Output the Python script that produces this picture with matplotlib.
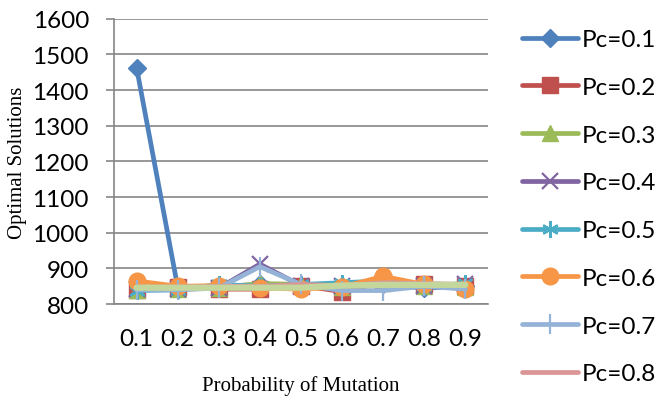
import matplotlib.pyplot as plt

# x categories
pm = ['0.1', '0.2', '0.3', '0.4', '0.5', '0.6', '0.7', '0.8', '0.9']

# optimal solutions for each crossover probability
pc01 = [1463, 848, 850, 855, 850, 852, 855, 845, 850]
pc02 = [840, 848, 842, 842, 852, 835, 862, 855, 850]
pc03 = [840, 842, 845, 858, 855, 848, 860, 852, 848]
pc04 = [842, 842, 845, 912, 852, 850, 858, 852, 855]
pc05 = [838, 840, 855, 850, 855, 860, 865, 850, 858]
pc06 = [865, 850, 852, 845, 842, 848, 878, 855, 842]
pc07 = [840, 840, 845, 905, 855, 838, 838, 850, 842]
pc08 = [848, 848, 850, 850, 855, 852, 860, 858, 855]
pc09 = [846, 846, 846, 846, 846, 852, 854, 854, 854]

labels = ['Pc=0.1', 'Pc=0.2', 'Pc=0.3', 'Pc=0.4', 'Pc=0.5', 'Pc=0.6', 'Pc=0.7', 'Pc=0.8', 'Pc=0.9']
series = [pc01, pc02, pc03, pc04, pc05, pc06, pc07, pc08, pc09]
colors = ['#4F81BD', '#C0504D', '#9BBB59', '#8064A2', '#4BACC6', '#F79646', '#95B3D7', '#D99694', '#C3D69B']
markers = ['D', 's', '^', 'x', (6, 2, 0), 'o', '|', None, None]
msizes = [9, 11, 11, 12, 12, 12, 14, 0, 0]
widths = [3.4, 3.4, 3.4, 3.4, 3.4, 3.4, 3.4, 3.4, 4.5]

fig = plt.figure(figsize=(6.55, 4.02), dpi=100)
ax = fig.add_axes([0.174, 0.241, 0.571, 0.71])

x = list(range(len(pm)))
handles = []
for s, lab, c, m, ms, lw in zip(series, labels, colors, markers, msizes, widths):
    h, = ax.plot(x, s, color=c, lw=lw, marker=m, markersize=ms,
                 markeredgewidth=1.6 if m in ['x', (6, 2, 0), '|'] else 1,
                 markeredgecolor=c, solid_capstyle='round', label=lab)
    handles.append(h)

ax.set_xlim(-0.55, 8.55)
ax.set_ylim(800, 1600)
ax.set_yticks(range(800, 1700, 100))
ax.set_xticks(x)
ax.set_xticklabels(pm)
ax.grid(axis='y', color='#868686', lw=1.2)
ax.set_axisbelow(True)
for sp in ['top', 'right']:
    ax.spines[sp].set_visible(False)
for sp in ['left', 'bottom']:
    ax.spines[sp].set_color('#868686')
    ax.spines[sp].set_linewidth(1.2)
ax.tick_params(axis='y', length=6, width=1.2, color='#868686', labelsize=17.5, pad=12)
ax.tick_params(axis='x', length=0, labelsize=17.5, pad=17)
for t in ax.get_xticklabels() + ax.get_yticklabels():
    t.set_family('Lato')

ax.set_ylabel('Optimal Solutions', family='Liberation Serif', fontsize=15, labelpad=4)
ax.set_xlabel('Probability of Mutation', family='Liberation Serif', fontsize=15, labelpad=19)

fig.legend(handles=handles[:8], loc='upper left', bbox_to_anchor=(0.797, 0.925),
           frameon=False, prop={'family': 'Lato', 'size': 17.5},
           borderpad=0, borderaxespad=0,
           handlelength=2.3, labelspacing=1.1, handletextpad=0.15)

fig.savefig('out.png', dpi=100)
